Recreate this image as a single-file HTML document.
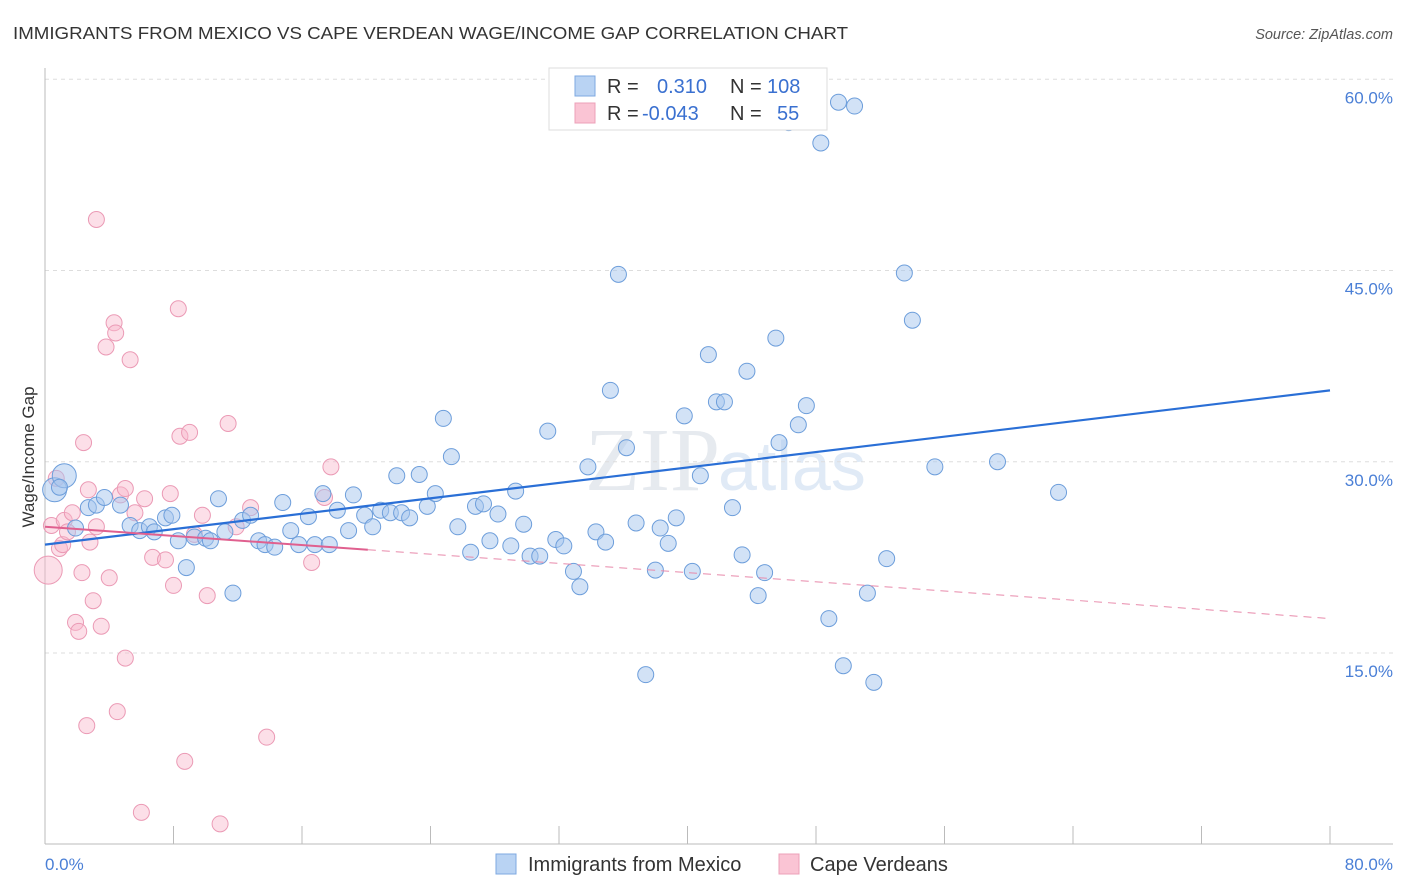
<!DOCTYPE html>
<html><head><meta charset="utf-8">
<style>
body{margin:0;background:#fff;font-family:"Liberation Sans",sans-serif;}
#wrap{position:relative;width:1406px;height:892px;overflow:hidden;}
</style></head>
<body>
<div id="wrap">
<svg id="chart" width="1406" height="892">
<text x="13" y="39" font-size="17.5" fill="#333" textLength="835" lengthAdjust="spacingAndGlyphs">IMMIGRANTS FROM MEXICO VS CAPE VERDEAN WAGE/INCOME GAP CORRELATION CHART</text>
<text x="1393" y="39" font-size="14.5" fill="#555" font-style="italic" text-anchor="end">Source: ZipAtlas.com</text>
<text x="720" y="490" font-size="90" fill="#e6eaef" text-anchor="end" font-family="Liberation Serif">ZIP</text>
<text x="718" y="490" font-size="70" fill="#e0eaf6">atlas</text>
<g id="grid"></g>
<g id="axes"></g>
<g id="pts"></g>
<g id="lines"></g>
<text transform="translate(34,457) rotate(-90)" font-size="17" fill="#333" text-anchor="middle">Wage/Income Gap</text>
<text x="45" y="870" font-size="17" fill="#4a7fd6">0.0%</text>
<text x="1393" y="870" font-size="17" fill="#4a7fd6" text-anchor="end">80.0%</text>
<g>
<rect x="549" y="68" width="278" height="62" fill="#fff" stroke="#ddd"/>
<rect x="575" y="76" width="20" height="20" fill="#b9d3f3" stroke="#7ea8e0"/>
<rect x="575" y="103" width="20" height="20" fill="#fac4d4" stroke="#eca0b8"/>
<text x="607" y="93" font-size="20" fill="#333">R =</text>
<text x="657" y="93" font-size="20" fill="#3a70d0">0.310</text>
<text x="730" y="93" font-size="20" fill="#333">N =</text>
<text x="767" y="93" font-size="20" fill="#3a70d0">108</text>
<text x="607" y="120" font-size="20" fill="#333">R =</text>
<text x="642" y="120" font-size="20" fill="#3a70d0">-0.043</text>
<text x="730" y="120" font-size="20" fill="#333">N =</text>
<text x="777" y="120" font-size="20" fill="#3a70d0">55</text>
</g>
<g>
<rect x="496" y="854" width="20" height="20" fill="#b9d3f3" stroke="#7ea8e0"/>
<text x="528" y="871" font-size="20" fill="#333">Immigrants from Mexico</text>
<rect x="779" y="854" width="20" height="20" fill="#fac4d4" stroke="#eca0b8"/>
<text x="810" y="871" font-size="20" fill="#333">Cape Verdeans</text>
</g>
</svg>
</div>
<script>
const yTicks=[15,30,45,60];
const yTickLabels=["15.0%","30.0%","45.0%","60.0%"];
const xTicks=[0,8,16,24,32,40,48,56,64,72,80];
const mexX=[0.6,1.2,0.9,1.9,2.7,3.2,3.7,4.7,5.3,5.9,6.5,6.8,7.5,7.9,8.3,8.8,9.3,10.0,10.3,10.8,11.2,11.7,12.3,12.8,13.3,13.7,14.3,14.8,15.3,15.8,16.4,16.8,17.3,17.7,18.2,18.9,19.2,19.9,20.4,20.9,21.5,21.9,22.2,22.7,23.3,23.8,24.3,24.8,25.3,25.7,26.5,26.8,27.3,27.7,28.2,29.0,29.3,29.8,30.2,30.8,31.3,31.8,32.3,32.9,33.3,33.8,34.3,34.9,35.2,35.7,36.2,36.8,37.4,38.0,38.3,38.8,39.3,39.8,40.3,40.8,41.3,41.8,42.3,42.8,43.4,43.7,44.4,44.8,45.5,45.7,46.3,46.9,47.4,48.3,48.8,49.4,49.7,50.4,51.2,51.6,52.4,53.5,54.0,55.4,59.3,63.1];
const mexY=[27.8,28.9,28.0,24.8,26.4,26.6,27.2,26.6,25.0,24.6,24.9,24.5,25.6,25.8,23.8,21.7,24.1,24.0,23.8,27.1,24.5,19.7,25.4,25.8,23.8,23.5,23.3,26.8,24.6,23.5,25.7,23.5,27.5,23.5,26.2,24.6,27.4,25.8,24.9,26.2,26.0,28.9,26.0,25.6,29.0,26.5,27.5,33.4,30.4,24.9,22.9,26.5,26.7,23.8,25.9,23.4,27.7,25.1,22.6,22.6,32.4,23.9,23.4,21.4,20.2,29.6,24.5,23.7,35.6,44.7,31.1,25.2,13.3,21.5,24.8,23.6,25.6,33.6,21.4,28.9,38.4,34.7,34.7,26.4,22.7,37.1,19.5,21.3,39.7,31.5,56.6,32.9,34.4,55.0,17.7,58.2,14.0,57.9,19.7,12.7,22.4,44.8,41.1,29.6,30.0,27.6];
const cvX=[0.2,0.4,0.7,0.9,1.1,1.2,1.4,1.7,1.9,2.1,2.3,2.4,2.6,2.7,2.8,3.0,3.2,3.2,3.5,3.8,4.0,4.3,4.4,4.5,4.7,5.0,5.0,5.3,5.6,6.0,6.2,6.7,7.5,7.8,8.0,8.3,8.4,8.7,9.0,9.3,9.8,10.1,10.9,11.4,11.9,12.8,13.8,16.6,17.4,17.8];
const cvY=[21.5,25.0,28.7,23.2,23.5,25.4,24.5,26.0,17.4,16.7,21.3,31.5,9.3,27.8,23.7,19.1,49.0,24.9,17.1,39.0,20.9,40.9,40.1,10.4,27.4,27.9,14.6,38.0,26.0,2.5,27.1,22.5,22.3,27.5,20.3,42.0,32.0,6.5,32.3,24.3,25.8,19.5,1.6,33.0,24.9,26.4,8.4,22.1,27.2,29.6];
const mexTrend=[[0,23.5],[80,35.6]];
const cvTrendSolid=[[0,24.9],[20.1,23.1]];
const cvTrendDash=[[20.1,23.1],[80,17.7]];

const NS="http://www.w3.org/2000/svg";
const X0=45,X1=1330,YB=844;
function xs(v){return X0+(X1-X0)*v/80;}
function ys(v){return 653-(v-15)*12.75;}
function mk(tag,attrs,parent){const e=document.createElementNS(NS,tag);for(const k in attrs)e.setAttribute(k,attrs[k]);parent.appendChild(e);return e;}
const grid=document.getElementById('grid'),axes=document.getElementById('axes'),pts=document.getElementById('pts'),lines=document.getElementById('lines');
yTicks.forEach((t,i)=>{
 const l=mk('line',{x1:45,x2:1393,y1:ys(t),y2:ys(t),stroke:'#ddd','stroke-dasharray':'4,4'},grid);
 
 
 const tx=mk('text',{x:1393,y:ys(t)+24,'font-size':17,fill:'#4a7fd6','text-anchor':'end'},grid);
 tx.textContent=yTickLabels[i];
 
 
});
let a=mk('line',{x1:45,x2:45,y1:68,y2:YB,stroke:'#bbb'},axes);


a=mk('line',{x1:45,x2:1393,y1:YB,y2:YB,stroke:'#bbb'},axes);


xTicks.forEach(t=>{
 const l=mk('line',{x1:xs(t),x2:xs(t),y1:826,y2:YB,stroke:'#bbb'},axes);
 
 
});
cvX.forEach((x,i)=>{
 const r=(i===0)?14:8;
 const c=mk('circle',{cx:xs(x),cy:ys(cvY[i]),r:r,fill:'rgba(248,185,205,0.45)',stroke:'#eb9ab5','stroke-width':1},pts);
 
 
});
mexX.forEach((x,i)=>{
 const r=(i<2)?12:8;
 const c=mk('circle',{cx:xs(x),cy:ys(mexY[i]),r:r,fill:'rgba(165,198,238,0.5)',stroke:'#6d9edb','stroke-width':1},pts);
 
 
});
let tl=mk('line',{x1:xs(mexTrend[0][0]),y1:ys(mexTrend[0][1]),x2:xs(mexTrend[1][0]),y2:ys(mexTrend[1][1]),stroke:'#2a6fd6','stroke-width':2.2},lines);


tl=mk('line',{x1:xs(cvTrendSolid[0][0]),y1:ys(cvTrendSolid[0][1]),x2:xs(cvTrendSolid[1][0]),y2:ys(cvTrendSolid[1][1]),stroke:'#e0608f','stroke-width':2},lines);


tl=mk('line',{x1:xs(cvTrendDash[0][0]),y1:ys(cvTrendDash[0][1]),x2:xs(cvTrendDash[1][0]),y2:ys(cvTrendDash[1][1]),stroke:'#e88aab','stroke-width':1,'stroke-dasharray':'8,6'},lines);


</script>
</body></html>
